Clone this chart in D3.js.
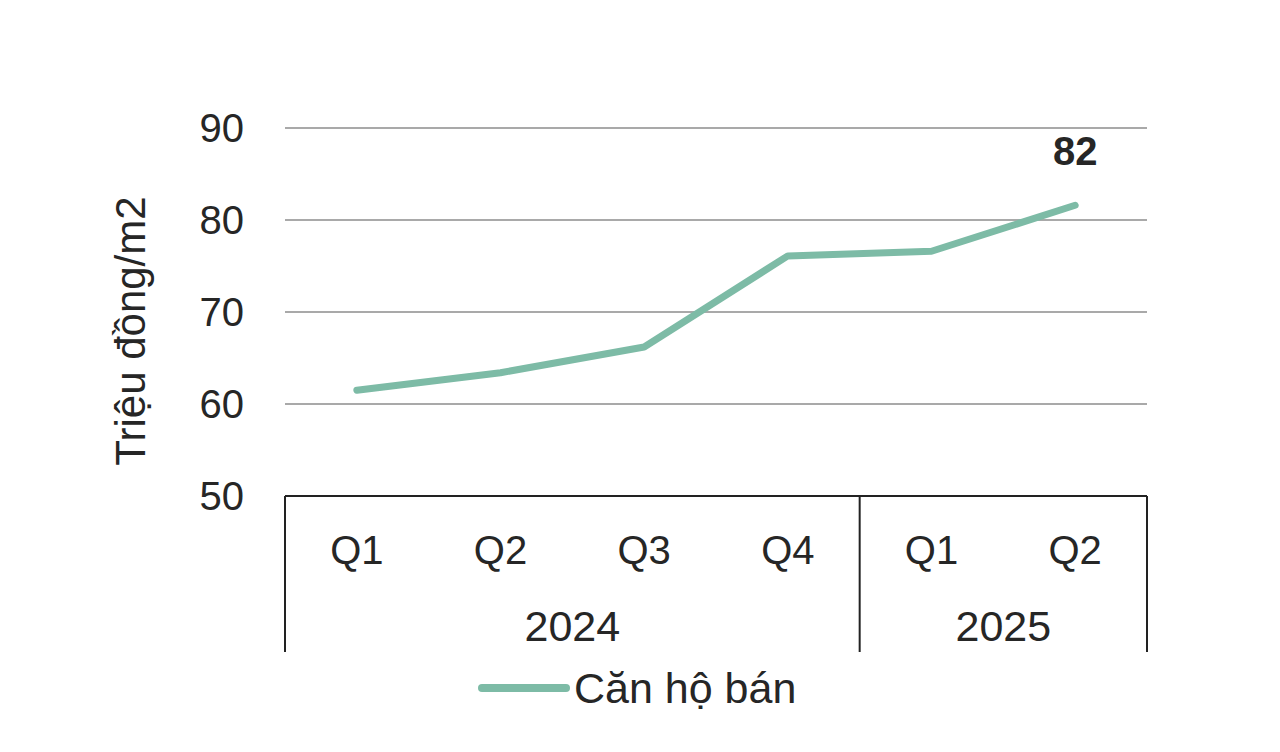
<!DOCTYPE html>
<html><head><meta charset="utf-8">
<script src="https://cdn.jsdelivr.net/npm/d3@7"></script>
<style>html,body{margin:0;padding:0;background:#fff;}svg{display:block;font-family:"Liberation Sans",Arial,sans-serif;}</style>
</head><body>
<svg id="c" width="1280" height="752"></svg>
<script>
const quarters = ["Q1","Q2","Q3","Q4","Q1","Q2"];
const years = [{label:"2024", span:4},{label:"2025", span:2}];
const values = [61.5, 63.4, 66.2, 76.1, 76.6, 81.6];
const yTicks = [50,60,70,80,90];
const seriesName = "Căn hộ bán";
const lastLabel = "82";
const yTitle = "Triệu đồng/m2";

const svg = d3.select("#c");
const L = 285, R = 1147, T = 128, B = 496;
const x = d3.scaleBand().domain(d3.range(quarters.length)).range([L, R]).padding(0);
const y = d3.scaleLinear().domain([50, 90]).range([B, T]);
const color = "#7dbba6";
const textCol = "#262626";

// gridlines
svg.append("g").selectAll("line").data(yTicks.filter(t => t > 50)).join("line")
  .attr("x1", L).attr("x2", R).attr("y1", d => y(d)).attr("y2", d => y(d))
  .attr("stroke", "#8c8c8c").attr("stroke-width", 1.5);

// y tick labels
svg.append("g").selectAll("text").data(yTicks).join("text")
  .attr("x", 244).attr("y", d => y(d)).attr("dy", "0.36em")
  .attr("text-anchor", "end").attr("font-size", 40).attr("fill", textCol)
  .text(d => d);

// y title
svg.append("text").attr("transform", `translate(145,331) rotate(-90)`)
  .attr("text-anchor", "middle").attr("font-size", 42).attr("fill", textCol)
  .text(yTitle);

// axis box
const axG = svg.append("g").attr("stroke", "#222").attr("stroke-width", 2);
axG.append("line").attr("x1", L).attr("x2", R).attr("y1", B).attr("y2", B);
let acc = 0;
const bounds = [0];
years.forEach(yr => { acc += yr.span; bounds.push(acc); });
axG.selectAll("line.v").data(bounds).join("line").attr("class", "v")
  .attr("x1", d => d < quarters.length ? x(d) : R).attr("x2", d => d < quarters.length ? x(d) : R)
  .attr("y1", B).attr("y2", 652);

// quarter labels
svg.append("g").selectAll("text").data(quarters).join("text")
  .attr("x", (d, i) => x(i) + x.bandwidth() / 2).attr("y", 564)
  .attr("text-anchor", "middle").attr("font-size", 40).attr("fill", textCol)
  .text(d => d);

// year labels
svg.append("g").selectAll("text").data(years).join("text")
  .attr("x", (d, i) => {
    const a = bounds[i], b = bounds[i + 1];
    const xa = x(a), xb = b < quarters.length ? x(b) : R;
    return (xa + xb) / 2;
  }).attr("y", 641)
  .attr("text-anchor", "middle").attr("font-size", 43).attr("fill", textCol)
  .text(d => d.label);

// line
const line = d3.line().x((d, i) => x(i) + x.bandwidth() / 2).y(d => y(d));
svg.append("path").datum(values).attr("d", line)
  .attr("fill", "none").attr("stroke", color).attr("stroke-width", 7)
  .attr("stroke-linejoin", "round").attr("stroke-linecap", "round");

// last label
const li = values.length - 1;
svg.append("text").attr("x", x(li) + x.bandwidth() / 2).attr("y", 165)
  .attr("text-anchor", "middle").attr("font-size", 40).attr("font-weight", "bold").attr("fill", textCol)
  .text(lastLabel);

// legend
svg.append("line").attr("x1", 482).attr("x2", 566).attr("y1", 688).attr("y2", 688)
  .attr("stroke", color).attr("stroke-width", 8).attr("stroke-linecap", "round");
svg.append("text").attr("x", 574).attr("y", 703).attr("font-size", 43).attr("fill", textCol)
  .text(seriesName);
</script>
</body></html>
